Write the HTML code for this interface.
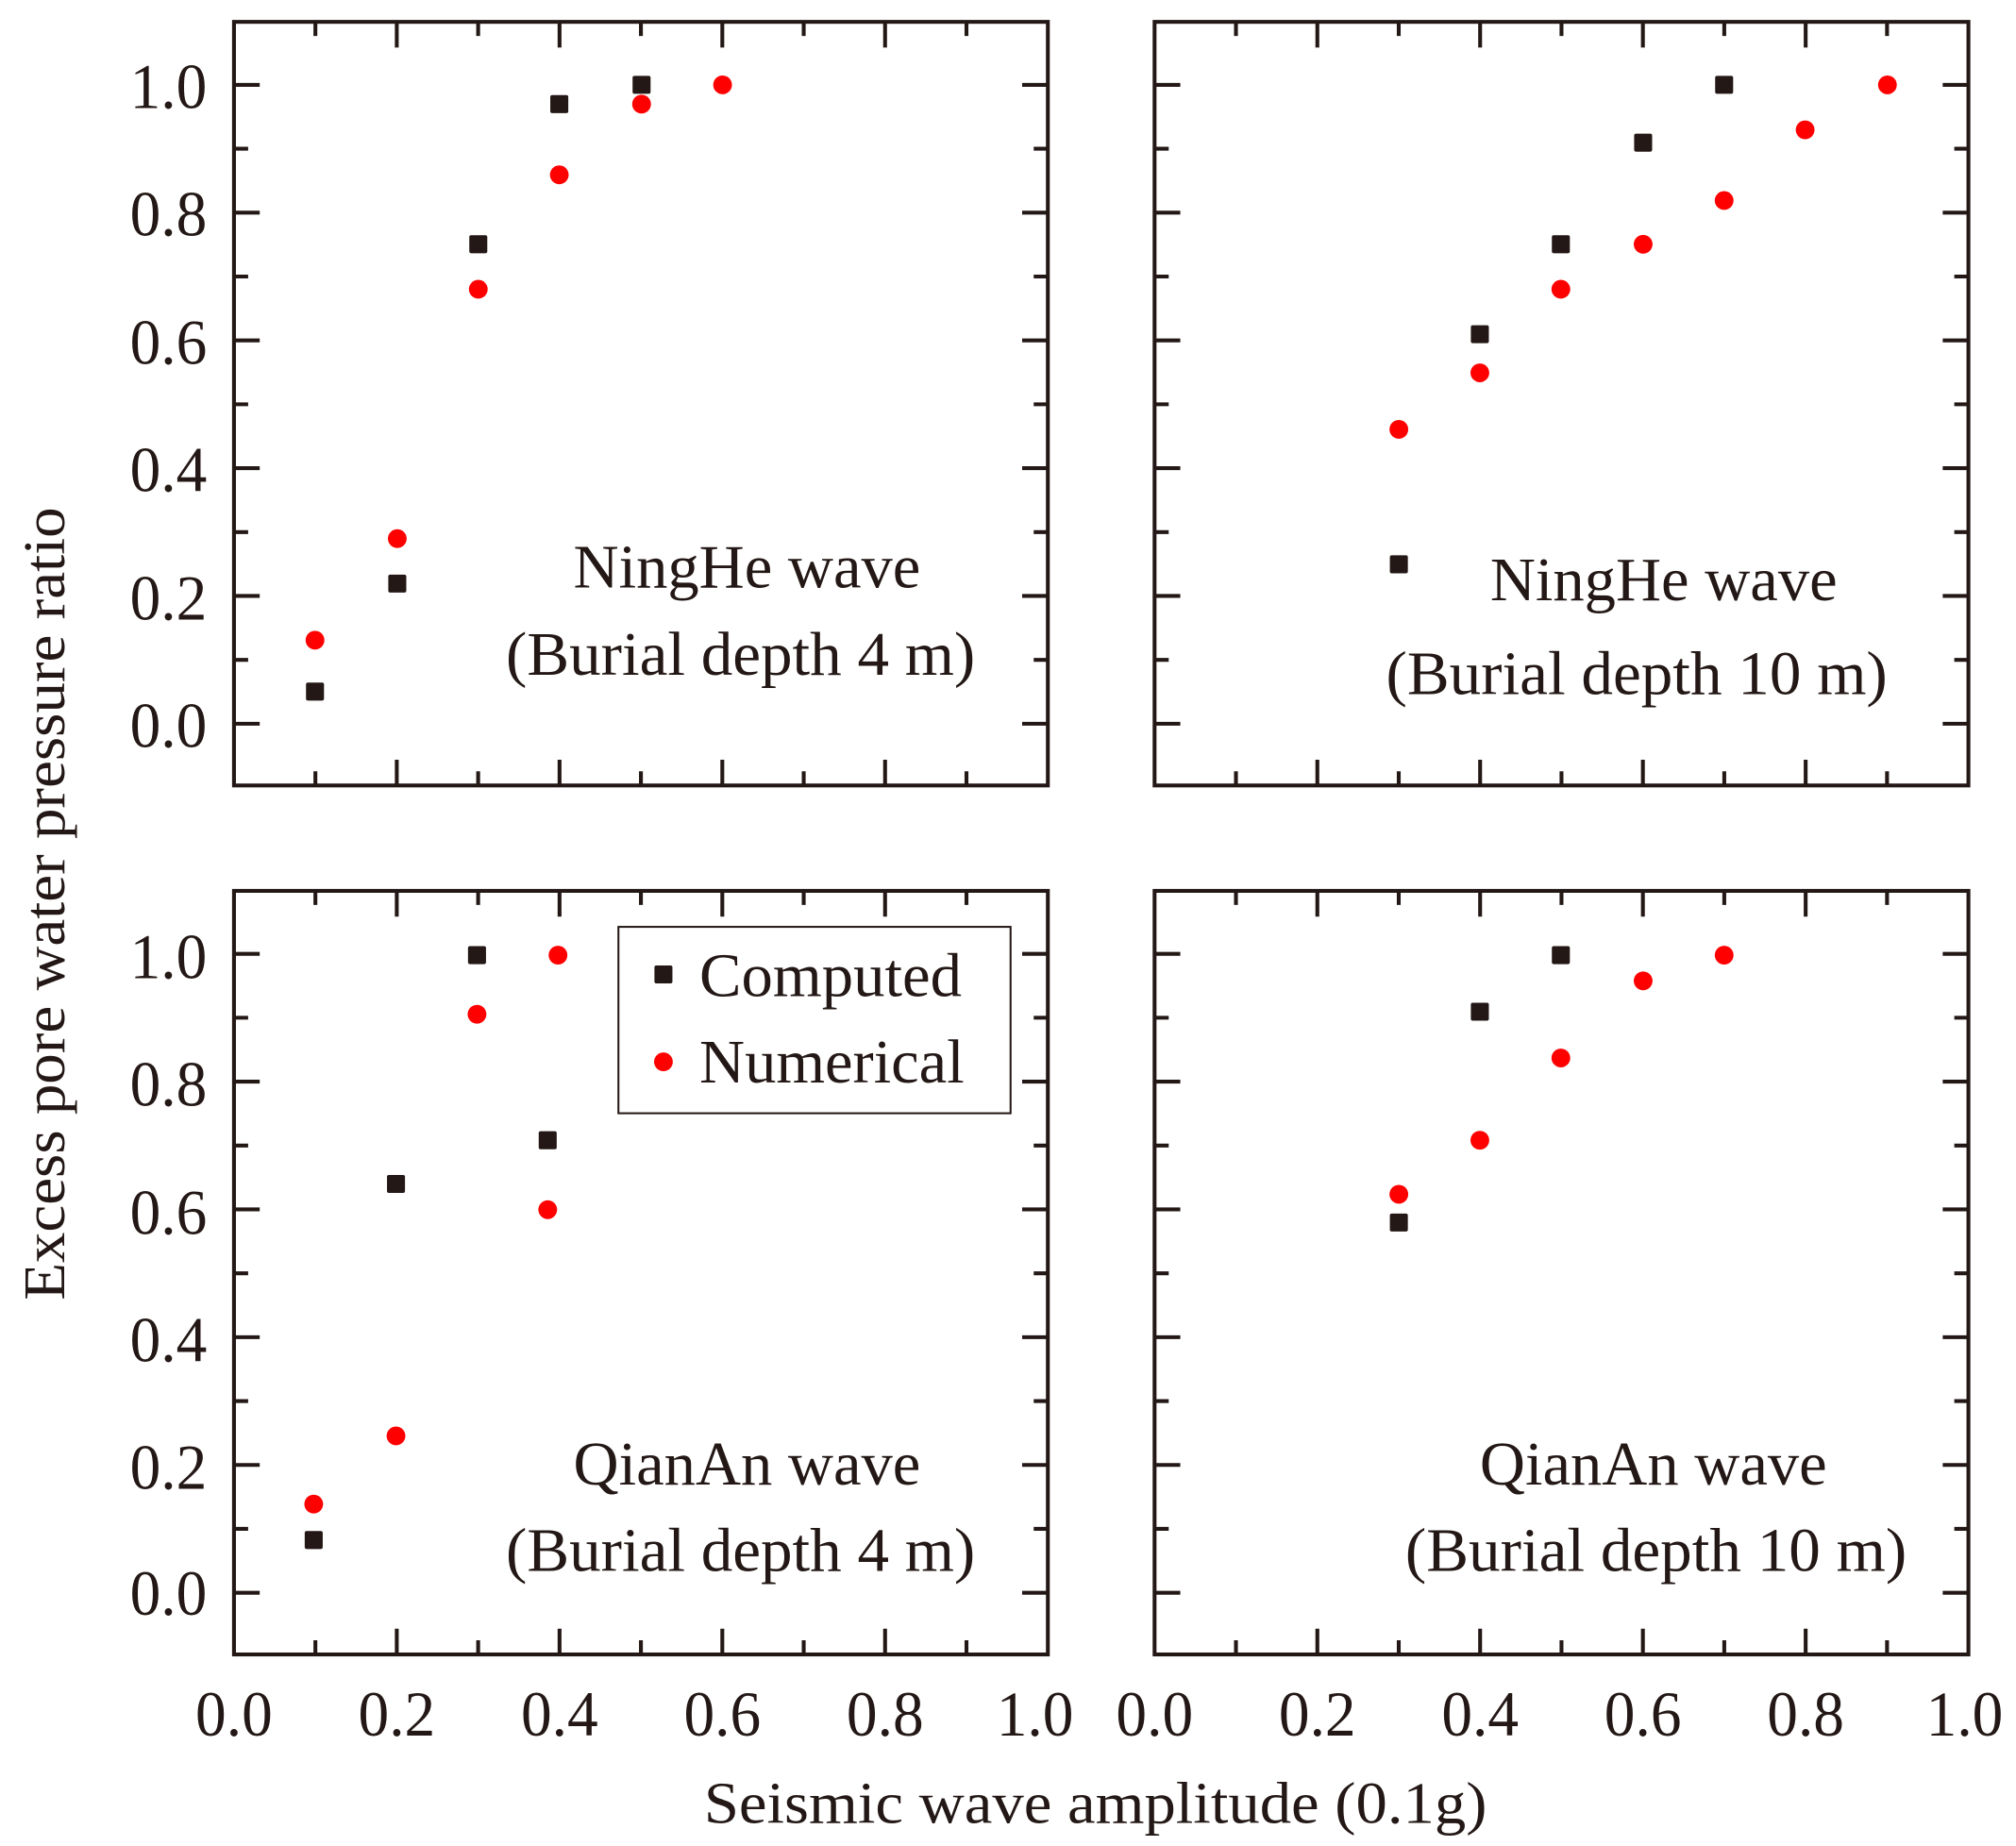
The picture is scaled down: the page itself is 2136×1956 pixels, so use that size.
<!DOCTYPE html>
<html><head><meta charset="utf-8"><style>
html,body{margin:0;padding:0;background:#fff;}
svg{display:block;}
text{font-family:"Liberation Serif",serif;fill:#231815;}
</style></head><body>
<svg width="2136" height="1956" viewBox="0 0 1568 1436" preserveAspectRatio="none" xmlns="http://www.w3.org/2000/svg">
<defs>
<g id="panel" stroke="#231815" stroke-width="3" fill="none">
<rect x="182" y="17" width="633" height="594"/>
<path d="M245.3 611v-11M308.6 611v-20M371.9 611v-11M435.2 611v-20M498.5 611v-11M561.8 611v-20M625.1 611v-11M688.4 611v-20M751.7 611v-11
M245.3 17v11M308.6 17v20M371.9 17v11M435.2 17v20M498.5 17v11M561.8 17v20M625.1 17v11M688.4 17v20M751.7 17v11
M182 66h20M182 115.7h11M182 165.4h20M182 215.1h11M182 264.8h20M182 314.5h11M182 364.2h20M182 413.9h11M182 463.6h20M182 513.3h11M182 563h20
M815 66h-20M815 115.7h-11M815 165.4h-20M815 215.1h-11M815 264.8h-20M815 314.5h-11M815 364.2h-20M815 413.9h-11M815 463.6h-20M815 513.3h-11M815 563h-20"/>
</g>
<rect id="sq" x="-7" y="-7" width="14" height="14" rx="1.5" fill="#231815"/>
<circle id="ci" r="7.3" fill="#ff0000"/>
</defs>
<use href="#panel"/>
<use href="#panel" transform="translate(716,0)"/>
<use href="#panel" transform="translate(0,676)"/>
<use href="#panel" transform="translate(716,676)"/>

<g font-size="50" text-anchor="end">
<text x="161" y="84" textLength="60" lengthAdjust="spacingAndGlyphs">1.0</text><text x="161" y="183" textLength="60" lengthAdjust="spacingAndGlyphs">0.8</text><text x="161" y="283" textLength="60" lengthAdjust="spacingAndGlyphs">0.6</text><text x="161" y="382" textLength="60" lengthAdjust="spacingAndGlyphs">0.4</text><text x="161" y="482" textLength="60" lengthAdjust="spacingAndGlyphs">0.2</text><text x="161" y="581" textLength="60" lengthAdjust="spacingAndGlyphs">0.0</text>
<text x="161" y="761" textLength="60" lengthAdjust="spacingAndGlyphs">1.0</text><text x="161" y="860" textLength="60" lengthAdjust="spacingAndGlyphs">0.8</text><text x="161" y="960" textLength="60" lengthAdjust="spacingAndGlyphs">0.6</text><text x="161" y="1059" textLength="60" lengthAdjust="spacingAndGlyphs">0.4</text><text x="161" y="1158" textLength="60" lengthAdjust="spacingAndGlyphs">0.2</text><text x="161" y="1256" textLength="60" lengthAdjust="spacingAndGlyphs">0.0</text>
</g>
<g font-size="50" text-anchor="middle">
<text x="182" y="1350" textLength="60" lengthAdjust="spacingAndGlyphs">0.0</text><text x="308.6" y="1350" textLength="60" lengthAdjust="spacingAndGlyphs">0.2</text><text x="435.2" y="1350" textLength="60" lengthAdjust="spacingAndGlyphs">0.4</text><text x="561.8" y="1350" textLength="60" lengthAdjust="spacingAndGlyphs">0.6</text><text x="688.4" y="1350" textLength="60" lengthAdjust="spacingAndGlyphs">0.8</text><text x="805" y="1350" textLength="60" lengthAdjust="spacingAndGlyphs">1.0</text>
<text x="898" y="1350" textLength="60" lengthAdjust="spacingAndGlyphs">0.0</text><text x="1024.6" y="1350" textLength="60" lengthAdjust="spacingAndGlyphs">0.2</text><text x="1151.2" y="1350" textLength="60" lengthAdjust="spacingAndGlyphs">0.4</text><text x="1277.8" y="1350" textLength="60" lengthAdjust="spacingAndGlyphs">0.6</text><text x="1404.4" y="1350" textLength="60" lengthAdjust="spacingAndGlyphs">0.8</text><text x="1528" y="1350" textLength="60" lengthAdjust="spacingAndGlyphs">1.0</text>
</g>
<text x="852" y="1418" font-size="46" text-anchor="middle" textLength="609" lengthAdjust="spacingAndGlyphs">Seismic wave amplitude (0.1g)</text>
<text transform="translate(50,703) rotate(-90)" font-size="46" text-anchor="middle" textLength="617" lengthAdjust="spacingAndGlyphs">Excess pore water pressure ratio</text>

<g font-size="48" text-anchor="middle">
<text x="581" y="457" textLength="270" lengthAdjust="spacingAndGlyphs">NingHe wave</text><text x="576" y="525" textLength="365" lengthAdjust="spacingAndGlyphs">(Burial depth 4 m)</text>
<text x="1294" y="467" textLength="270" lengthAdjust="spacingAndGlyphs">NingHe wave</text><text x="1273" y="540" textLength="390" lengthAdjust="spacingAndGlyphs">(Burial depth 10 m)</text>
<text x="581" y="1155" textLength="270" lengthAdjust="spacingAndGlyphs">QianAn wave</text><text x="576" y="1222" textLength="365" lengthAdjust="spacingAndGlyphs">(Burial depth 4 m)</text>
<text x="1286" y="1155" textLength="270" lengthAdjust="spacingAndGlyphs">QianAn wave</text><text x="1288" y="1222" textLength="390" lengthAdjust="spacingAndGlyphs">(Burial depth 10 m)</text>
</g>

<rect x="481" y="721" width="305" height="145" fill="#fff" stroke="#231815" stroke-width="1.5"/>
<use href="#sq" x="516" y="758"/><use href="#ci" x="516" y="826"/>
<text x="544" y="775" font-size="48" textLength="204" lengthAdjust="spacingAndGlyphs">Computed</text>
<text x="544" y="842" font-size="48" textLength="206" lengthAdjust="spacingAndGlyphs">Numerical</text>

<use href="#ci" x="245" y="498"/><use href="#ci" x="309" y="419"/><use href="#ci" x="372" y="225"/><use href="#ci" x="435" y="136"/><use href="#ci" x="499" y="81"/><use href="#ci" x="562" y="66"/>
<use href="#sq" x="245" y="538"/><use href="#sq" x="309" y="454"/><use href="#sq" x="372" y="190"/><use href="#sq" x="435" y="81"/><use href="#sq" x="499" y="66"/>

<use href="#ci" x="1088" y="334"/><use href="#ci" x="1151" y="290"/><use href="#ci" x="1214" y="225"/><use href="#ci" x="1278" y="190"/><use href="#ci" x="1341" y="156"/><use href="#ci" x="1404" y="101"/><use href="#ci" x="1468" y="66"/>
<use href="#sq" x="1088" y="439"/><use href="#sq" x="1151" y="260"/><use href="#sq" x="1214" y="190"/><use href="#sq" x="1278" y="111"/><use href="#sq" x="1341" y="66"/>

<use href="#ci" x="244" y="1170"/><use href="#ci" x="308" y="1117"/><use href="#ci" x="371" y="789"/><use href="#ci" x="426" y="941"/><use href="#ci" x="434" y="743"/>
<use href="#sq" x="244" y="1198"/><use href="#sq" x="308" y="921"/><use href="#sq" x="371" y="743"/><use href="#sq" x="426" y="887"/>

<use href="#ci" x="1088" y="929"/><use href="#ci" x="1151" y="887"/><use href="#ci" x="1214" y="823"/><use href="#ci" x="1278" y="763"/><use href="#ci" x="1341" y="743"/>
<use href="#sq" x="1088" y="951"/><use href="#sq" x="1151" y="787"/><use href="#sq" x="1214" y="743"/>
</svg>
</body></html>
